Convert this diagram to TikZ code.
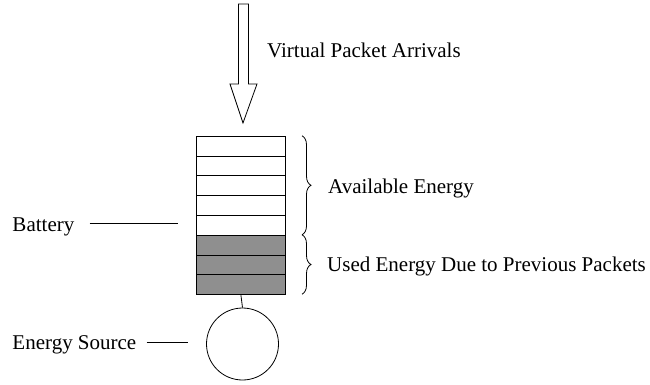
\documentclass[tikz,border=0pt]{standalone}
\usepackage{fontspec}
\setmainfont{Liberation Serif}
\usetikzlibrary{decorations.pathreplacing}
\begin{document}
\begin{tikzpicture}[x=1pt,y=-1pt,
  lbl/.style={anchor=base west,inner sep=0pt,font=\fontsize{21}{25}\selectfont},
  cellw/.style={draw,line width=0.8pt,fill=white,minimum width=89pt,minimum height=19.8pt,inner sep=0pt,anchor=north west},
  cellg/.style={cellw,fill=gray!88!white},
  thin/.style={line width=0.8pt},
  bracestyle/.style={decorate,decoration={brace,amplitude=9pt},line width=0.8pt}]
\useasboundingbox (0,0) rectangle (650,385);
% arrow
\draw[thin] (238.5,4) -- (248.5,4) -- (248.5,84) -- (257,84) -- (243,123) -- (230,84) -- (238.5,84) -- cycle;
\node[lbl] (vpa) at (267,58) {Virtual Packet Arrivals};
% battery cells
\foreach \i in {0,...,4}{
  \node[cellw] (c\i) at (196,{135.8+19.8*\i}) {};
}
\foreach \i in {5,6,7}{
  \node[cellg] (c\i) at (196,{135.8+19.8*\i}) {};
}
% source
\node[draw,circle,line width=0.8pt,minimum size=72pt,inner sep=0pt] (src) at (242.5,344) {};
\draw[thin] (c7.south) -- (src.north);
% labels
\node[lbl] (bat) at (12.3,231) {Battery};
\coordinate (batend) at (178,223.3);
\draw[thin] ([xshift=15pt]bat.east |- batend) -- (batend);
\node[lbl] (es) at (12.3,349) {Energy Source};
\coordinate (esend) at (188,342.3);
\draw[thin] ([xshift=10pt]es.east |- esend) -- (esend);
% braces
\draw[bracestyle] (302,135.8) -- (302,234.8);
\draw[bracestyle] (302,234.8) -- (302,294.2);
\node[lbl] (av) at (328,193.3) {Available Energy};
\node[lbl] (used) at (327,271.3) {Used Energy Due to Previous Packets};
\end{tikzpicture}
\end{document}
